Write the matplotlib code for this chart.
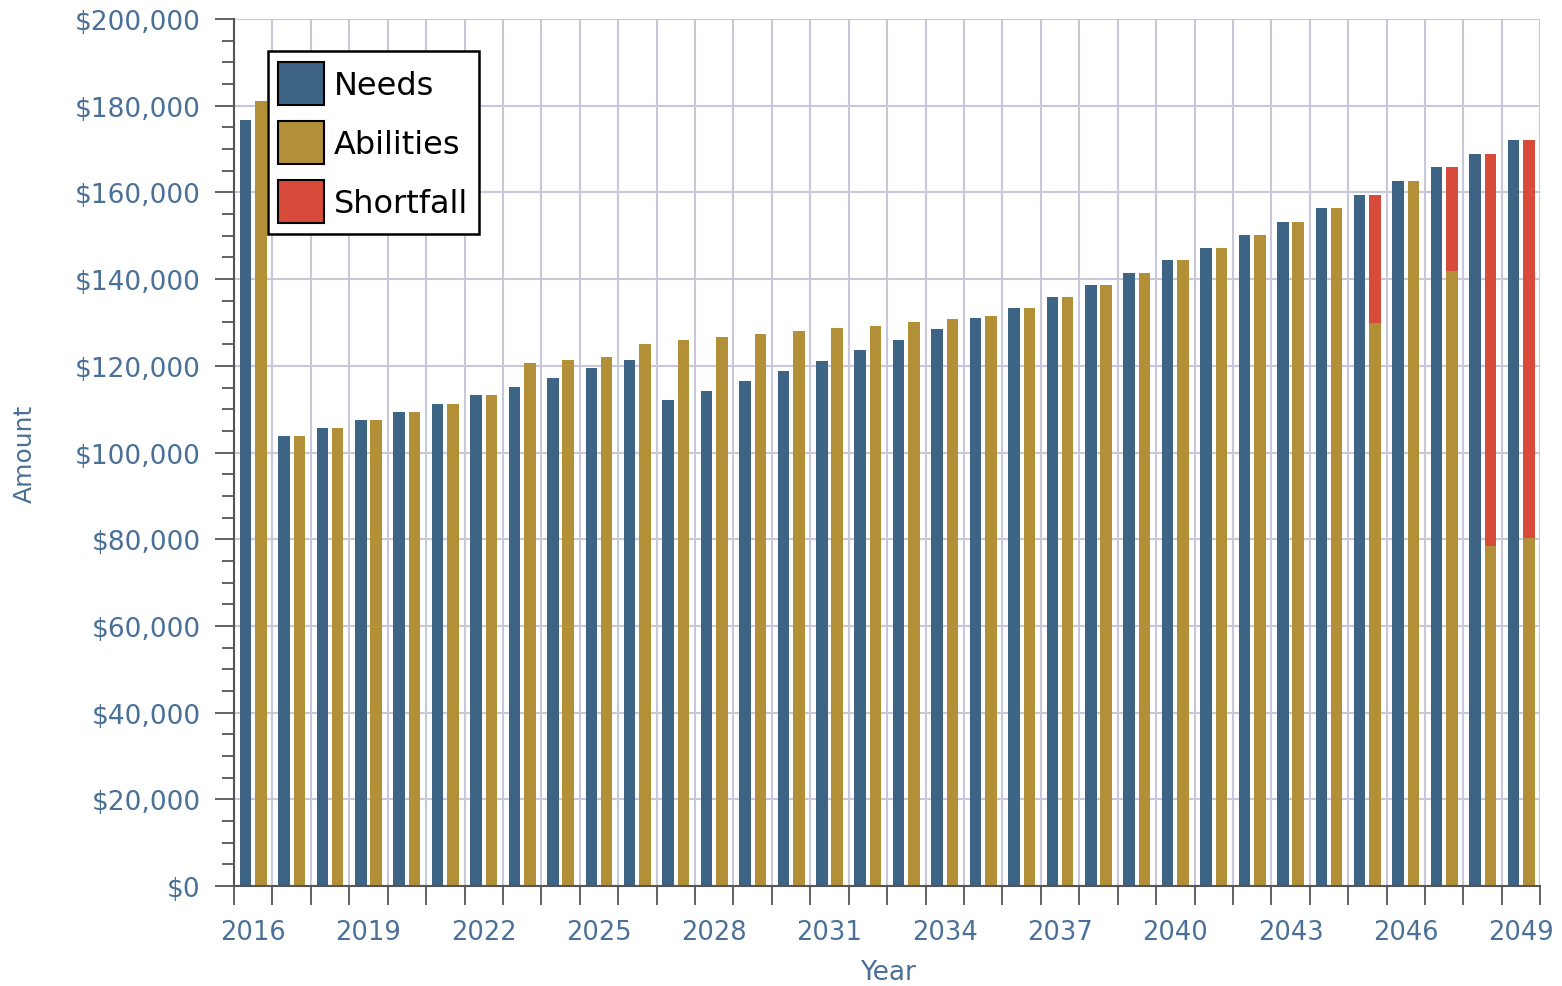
import numpy as np
import matplotlib
matplotlib.use("Agg")
import matplotlib.pyplot as plt
from matplotlib.ticker import FuncFormatter, MultipleLocator, FixedLocator
from matplotlib.patches import Patch

# values, in dollars
years = list(range(2016, 2050))

needs = [176800, 103700, 105600, 107400, 109300, 111200, 113300, 115200, 117200, 119400,
         121300, 112100, 114300, 116600, 118700, 121100, 123600, 125900, 128400, 131000,
         133400, 135900, 138700, 141500, 144400, 147200, 150100, 153100, 156400, 159400,
         162700, 165800, 168800, 172000]

abilities = [181000, 103700, 105600, 107400, 109300, 111200, 113300, 120700, 121400, 122100,
             125000, 125900, 126700, 127400, 128000, 128700, 129300, 130200, 130900, 131600,
             133400, 135900, 138700, 141500, 144400, 147200, 150100, 153100, 156400, 129900,
             162700, 141900, 78400, 80300]

shortfall = [0, 0, 0, 0, 0, 0, 0, 0, 0, 0,
             0, 0, 0, 0, 0, 0, 0, 0, 0, 0,
             0, 0, 0, 0, 0, 0, 0, 0, 0, 29500,
             0, 23900, 90400, 91700]

c_needs = "#3d6485"
c_abil = "#b38f38"
c_short = "#d84b3b"
c_text = "#4a7098"
c_grid = "#c8c8da"
c_axis = "#555555"

plt.rcParams['font.family'] = ['DejaVu Sans']

fig = plt.figure(figsize=(15.62, 9.87), dpi=100)
ax = fig.add_axes([0.1498, 0.1013, 0.8363, 0.8784])

x = np.arange(len(years))
w = 0.3
off = 0.2

ax.bar(x - off, needs, width=w, color=c_needs, zorder=3)
ax.bar(x + off, abilities, width=w, color=c_abil, zorder=3)
ax.bar(x + off, shortfall, width=w, bottom=abilities, color=c_short, zorder=3)

ax.set_xlim(-0.5, len(years) - 0.5)
ax.set_ylim(0, 200000)

# y axis: major every 20k, minor every 5k
ax.yaxis.set_major_locator(MultipleLocator(20000))
ax.yaxis.set_minor_locator(MultipleLocator(5000))
ax.yaxis.set_major_formatter(FuncFormatter(lambda v, p: f"${v:,.0f}"))

# x axis: ticks on the year boundaries, labels every 3 years
ax.xaxis.set_minor_locator(FixedLocator(np.arange(-0.5, len(years), 1.0)))
ax.xaxis.set_major_locator(FixedLocator(x[::3]))
ax.set_xticklabels([str(y) for y in years[::3]])

ax.tick_params(axis='y', which='major', length=14, width=1.3, color=c_axis,
               labelsize=19, labelcolor=c_text, pad=10)
ax.tick_params(axis='y', which='minor', length=8.5, width=1.3, color=c_axis)
ax.tick_params(axis='x', which='major', length=0, labelsize=18.5, labelcolor=c_text, pad=24)
ax.tick_params(axis='x', which='minor', length=13.5, width=1.3, color=c_axis)

# grid
for v in ax.get_yticks()[1:-1]:
    ax.axhline(v, color=c_grid, lw=1.5, zorder=1)
ax.grid(which='minor', axis='x', color=c_grid, lw=1.5, zorder=1)

for s in ['top', 'right']:
    ax.spines[s].set_visible(False)
for s in ['left', 'bottom']:
    ax.spines[s].set_color(c_axis)
    ax.spines[s].set_linewidth(1.5)
    ax.spines[s].set_zorder(4)

ax.set_ylabel("Amount", fontsize=18, color=c_text)
ax.yaxis.set_label_coords(-0.151, 0.5)
ax.set_xlabel("Year", fontsize=19, color=c_text)
ax.xaxis.set_label_coords(0.5008, -0.084)

handles = [Patch(facecolor=c_needs, edgecolor='black', lw=1.5, label="Needs"),
           Patch(facecolor=c_abil, edgecolor='black', lw=1.5, label="Abilities"),
           Patch(facecolor=c_short, edgecolor='black', lw=1.5, label="Shortfall")]
leg = ax.legend(handles=handles, loc='upper left', bbox_to_anchor=(0.026, 0.963),
                fontsize=23, frameon=True, fancybox=False, framealpha=1,
                handlelength=1.41, handleheight=1.7, handletextpad=0.33,
                labelspacing=0.5, borderpad=0.33, borderaxespad=0)
leg.get_frame().set_edgecolor('black')
leg.get_frame().set_linewidth(1.8)
leg.set_zorder(5)

fig.savefig("out.png", dpi=100)
